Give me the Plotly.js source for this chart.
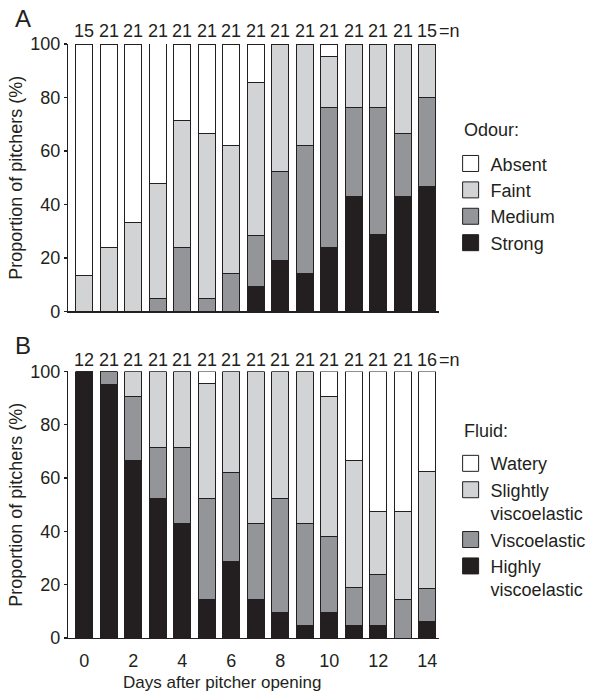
<!DOCTYPE html>
<html>
<head>
<meta charset="utf-8">
<script src="https://cdn.plot.ly/plotly-3.0.1.min.js"></script>
<style>html,body{margin:0;padding:0;background:#fff;}#chart{width:603px;height:693px;}</style>
</head>
<body>
<div id="chart"></div>
<script>
// ---- data ----
const days = [0,1,2,3,4,5,6,7,8,9,10,11,12,13,14];
const dayTicks = [0,2,4,6,8,10,12,14];

// Panel A: odour (% of pitchers)
const odourStrong = [0,0,0,0,0,0,0,9.5,19.0,14.3,23.8,42.9,28.6,42.9,46.7];
const odourMedium = [0,0,0,4.8,23.8,4.8,14.3,19.0,33.3,47.6,52.4,33.3,47.6,23.8,33.3];
const odourFaint  = [13.3,23.8,33.3,42.9,47.6,61.9,47.6,57.1,47.6,38.1,19.0,23.8,23.8,33.3,20.0];
const odourAbsent = [86.7,76.2,66.7,52.4,28.6,33.3,38.1,14.3,0,0,4.8,0,0,0,0];
const nA = [15,21,21,21,21,21,21,21,21,21,21,21,21,21,15];

// Panel B: fluid (% of pitchers)
const fluidHighly   = [100,95.2,66.7,52.4,42.9,14.3,28.6,14.3,9.5,4.8,9.5,4.8,4.8,0,6.25];
const fluidVisco    = [0,4.8,23.8,19.0,28.6,38.1,33.3,28.6,42.9,38.1,28.6,14.3,19.0,14.3,12.5];
const fluidSlightly = [0,0,9.5,28.6,28.6,42.9,38.1,57.1,47.6,57.1,52.4,47.6,23.8,33.3,43.75];
const fluidWatery   = [0,0,0,0,0,4.8,0,0,0,0,9.5,33.3,52.4,52.4,37.5];
const nB = [12,21,21,21,21,21,21,21,21,21,21,21,21,21,16];

const odourNames = ['Strong','Medium','Faint','Absent'];
const fluidNames = ['Highly<br>viscoelastic','Viscoelastic','Slightly<br>viscoelastic','Watery'];

// ---- styling ----
const colors = ['#231f20','#939598','#d1d3d4','#ffffff'];
const ink = '#231f20';
const FONT = 'Liberation Sans, Arial, Helvetica, sans-serif';
const FS = 18;
const tf = {size: FS, color: ink, family: FONT};

function bar(y, name, color, xa, ya) {
  return {
    type: 'bar', x: days, y: y, name: name, xaxis: xa, yaxis: ya, showlegend: false,
    marker: {color: color, line: {color: ink, width: 1}}, hoverinfo: 'skip'
  };
}
// legend key (no data; only draws the swatch in the legend)
function key(name, color, xa, ya, legend) {
  return {
    type: 'scatter', mode: 'markers', x: [null], y: [null], name: name,
    xaxis: xa, yaxis: ya, legend: legend, showlegend: true, hoverinfo: 'skip',
    marker: {symbol: 'square', size: 16, color: color, line: {color: ink, width: 1}}
  };
}

const odourSeries = [odourStrong, odourMedium, odourFaint, odourAbsent];
const fluidSeries = [fluidHighly, fluidVisco, fluidSlightly, fluidWatery];
const traces = [];
odourSeries.forEach((s,i) => traces.push(bar(s, odourNames[i], colors[i], 'x', 'y')));
fluidSeries.forEach((s,i) => traces.push(bar(s, fluidNames[i], colors[i], 'x2', 'y2')));
odourNames.forEach((nm,i) => traces.push(key(nm, colors[i], 'x', 'y', 'legend')));
fluidNames.forEach((nm,i) => traces.push(key(nm, colors[i], 'x2', 'y2', 'legend2')));

const annotations = [];
function nLabels(ns, xref, yref, ys) {
  ns.forEach((n, i) => {
    annotations.push({x: days[i], y: 100, xref: xref, yref: yref, text: String(n),
      showarrow: false, yanchor: 'bottom', yshift: ys, font: tf});
  });
  annotations.push({x: days[days.length-1], y: 100, xref: xref, yref: yref, text: '=n',
    showarrow: false, xanchor: 'left', yanchor: 'bottom', yshift: ys, xshift: 10, font: tf});
}
nLabels(nA, 'x', 'y', 1);
nLabels(nB, 'x2', 'y2', -1);
annotations.push({x: -0.149, y: 1.0, xref: 'paper', yref: 'paper', text: 'A', showarrow: false,
  xanchor: 'left', yanchor: 'bottom', yshift: 10, font: {size: 24, color: ink, family: FONT}});
annotations.push({x: -0.149, y: 0.4488, xref: 'paper', yref: 'paper', text: 'B', showarrow: false,
  xanchor: 'left', yanchor: 'bottom', yshift: 10, font: {size: 24, color: ink, family: FONT}});
// legend headings
annotations.push({x: 1.063, y: 0.855, xref: 'paper', yref: 'paper', text: 'Odour:', showarrow: false,
  xanchor: 'left', yanchor: 'middle', font: tf});
annotations.push({x: 1.063, y: 0.3485, xref: 'paper', yref: 'paper', text: 'Fluid:', showarrow: false,
  xanchor: 'left', yanchor: 'middle', font: tf});
// x-axis title
annotations.push({x: 0.415, y: 0, xref: 'paper', yref: 'paper', text: 'Days after pitcher opening',
  showarrow: false, xanchor: 'center', yanchor: 'middle', yshift: -44,
  font: {size: 17, color: ink, family: FONT}});

const xBase = {
  range: [-0.66, 14.48], showline: true, linecolor: ink, linewidth: 1.2,
  showgrid: false, zeroline: false, ticks: '', fixedrange: true, tickfont: tf
};
const yBase = {
  range: [0, 100], tickvals: [0,20,40,60,80,100], showline: true, linecolor: ink, linewidth: 1.2,
  ticks: 'outside', ticklen: 3, tickcolor: ink, tickwidth: 1.2,
  showgrid: false, zeroline: false, fixedrange: true, tickfont: tf,
  title: {text: 'Proportion of pitchers (%)', font: tf, standoff: 2}
};

const legendBase = {
  xanchor: 'left', yanchor: 'top', traceorder: 'reversed', valign: 'top',
  font: tf, bgcolor: 'rgba(0,0,0,0)', borderwidth: 0
};

const layout = {
  width: 603, height: 693,
  margin: {l: 68, r: 152, t: 44, b: 55},
  paper_bgcolor: '#ffffff', plot_bgcolor: '#ffffff',
  font: {family: FONT, color: ink, size: FS},
  barmode: 'stack', bargap: 0.32,
  showlegend: true,
  xaxis: Object.assign({}, xBase, {anchor: 'y', showticklabels: false}),
  yaxis: Object.assign({}, yBase, {domain: [0.5497, 1], anchor: 'x'}),
  xaxis2: Object.assign({}, xBase, {anchor: 'y2', tickvals: dayTicks, ticktext: dayTicks.map(String),
    ticklabelstandoff: 6}),
  yaxis2: Object.assign({}, yBase, {domain: [0, 0.4488], anchor: 'x2'}),
  legend: Object.assign({}, legendBase, {x: 1.0313, y: 0.8295}),
  legend2: Object.assign({}, legendBase, {x: 1.0313, y: 0.3247}),
  annotations: annotations
};

Plotly.newPlot('chart', traces, layout, {displayModeBar: false, staticPlot: true});
</script>
</body>
</html>
